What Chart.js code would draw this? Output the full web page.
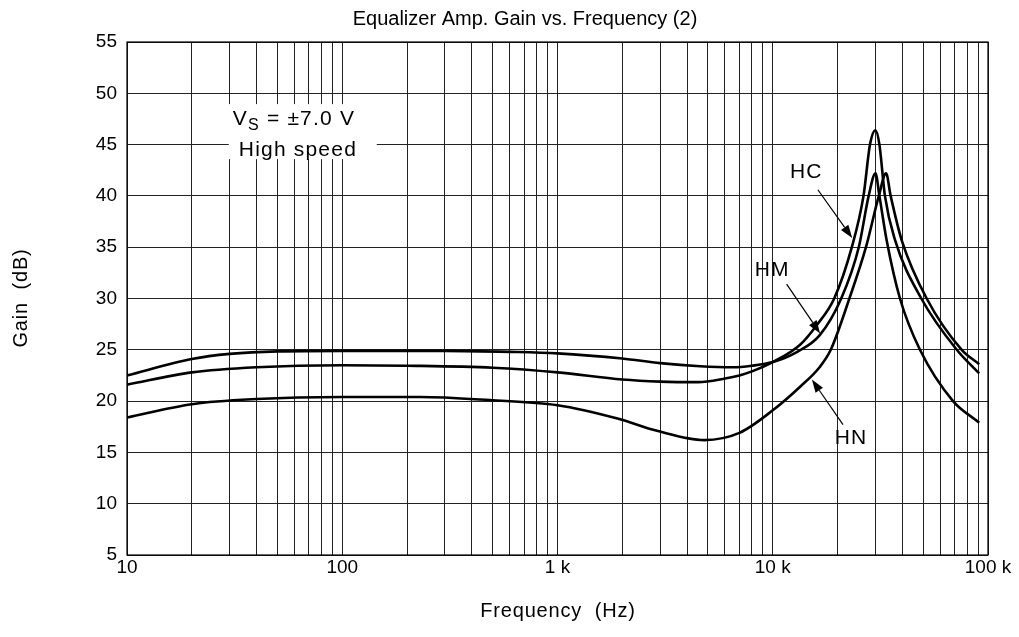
<!DOCTYPE html>
<html>
<head>
<meta charset="utf-8">
<script src="https://cdn.jsdelivr.net/npm/chart.js@4.4.1/dist/chart.umd.min.js"></script>
<style>
  html, body { margin: 0; padding: 0; background: #fff; }
  #wrap { width: 1019px; height: 637px; }
</style>
</head>
<body>
<div id="wrap"><canvas id="eqChart"></canvas></div>
<script>
// values
var hcFreq = [10, 20, 40, 100, 200, 500, 1000, 2000, 3000, 4500, 6000, 7000, 8000, 10000, 13400, 16000, 19300, 23300, 26400, 28300, 30000, 31300, 33200, 37000, 49000, 71600, 91000];
var hcGain = [21.6, 22.8, 23.3, 23.5, 23.45, 23.25, 22.8, 22.1, 21.9, 21.85, 22.2, 22.5, 22.9, 23.8, 25.5, 27.4, 30, 35, 40, 45, 46.4, 45, 40, 35.7, 30, 25, 22.7];

var hmFreq = [10, 20, 30, 50, 100, 300, 600, 1000, 2000, 3000, 4600, 6500, 8000, 10000, 13000, 16500, 20800, 25100, 27900, 30000, 31300, 33800, 39000, 48300, 68800, 91000];
var hmGain = [22.5, 24.1, 24.6, 24.85, 24.9, 24.9, 24.8, 24.65, 24.15, 23.7, 23.4, 23.3, 23.45, 23.8, 24.8, 26.4, 30, 35, 40, 42.2, 40, 35.7, 30, 25, 20, 17.9];

var hnFreq = [10, 20, 40, 100, 230, 485, 1000, 1900, 2900, 4800, 7000, 10000, 13400, 16500, 18600, 22700, 27100, 31100, 33600, 35300, 39700, 51900, 75500, 91000];
var hnGain = [18.4, 19.7, 20.2, 20.4, 20.4, 20.1, 19.6, 18.3, 17.1, 16.2, 16.9, 19.1, 21.4, 23.3, 25, 30, 35, 40, 42.2, 40, 35.7, 30, 25, 23.6];

var xTickLabels = { 10: '10', 100: '100', 1000: '1 k', 10000: '10 k', 100000: '100 k' };
var yMin = 5, yMax = 55, yStep = 5;

var FONT = '"Liberation Sans", Arial, Helvetica, sans-serif';

function pts(fs, gs) {
  return fs.map(function (f, i) { return { x: f, y: gs[i] }; });
}

function curve(label, fs, gs) {
  return {
    label: label,
    data: pts(fs, gs),
    borderColor: '#000',
    borderWidth: 2.6,
    pointRadius: 0,
    fill: false,
    cubicInterpolationMode: 'monotone'
  };
}

// labels, arrows and the condition box, placed in data units
var notes = [
  { text: 'HC', at: [14300, 42.3], from: [16200, 40.6], to: [23400, 35.9] },
  { text: 'HM', at: [9930, 32.8], from: [11600, 31.4], to: [16600, 26.6] },
  { text: 'HN', at: [23100, 16.4], from: [21200, 17.7], to: [15200, 22.1] }
];

function arrow(ctx, x1, y1, x2, y2) {
  var a = Math.atan2(y2 - y1, x2 - x1);
  var len = 13, w = 4.5;
  ctx.beginPath();
  ctx.moveTo(x1, y1);
  ctx.lineTo(x2 - Math.cos(a) * len, y2 - Math.sin(a) * len);
  ctx.lineWidth = 1.2;
  ctx.stroke();
  ctx.beginPath();
  ctx.moveTo(x2, y2);
  ctx.lineTo(x2 - Math.cos(a) * len - Math.sin(a) * w, y2 - Math.sin(a) * len + Math.cos(a) * w);
  ctx.lineTo(x2 - Math.cos(a) * len + Math.sin(a) * w, y2 - Math.sin(a) * len - Math.cos(a) * w);
  ctx.closePath();
  ctx.fill();
}

var decorations = {
  id: 'decorations',
  afterDatasetsDraw: function (chart) {
    var ctx = chart.ctx, xs = chart.scales.x, ys = chart.scales.y;
    ctx.save();
    ctx.fillStyle = '#000';
    ctx.strokeStyle = '#000';

    // condition box
    var bx = xs.getPixelForValue(31);
    var b1 = ys.getPixelForValue(46.9), b2 = ys.getPixelForValue(43.9);
    ctx.fillStyle = '#fff';
    ctx.fillRect(bx - 4, b1 - 21, 148, 55);
    ctx.fillStyle = '#000';
    ctx.textAlign = 'left';
    ctx.textBaseline = 'alphabetic';
    ctx.letterSpacing = '1.2px';
    ctx.font = '21px ' + FONT;
    ctx.fillText('V', bx, b1);
    var vw = ctx.measureText('V').width;
    ctx.font = '16px ' + FONT;
    ctx.fillText('S', bx + vw, b1 + 5);
    var sw = ctx.measureText('S').width;
    ctx.font = '21px ' + FONT;
    ctx.fillText(' = \u00b17.0 V', bx + vw + sw, b1);
    ctx.fillText('High speed', bx + 6, b2);

    // curve labels with arrows
    notes.forEach(function (n) {
      ctx.font = '21px ' + FONT;
      ctx.letterSpacing = '1px';
      ctx.textAlign = 'center';
      ctx.textBaseline = 'middle';
      ctx.fillText(n.text, xs.getPixelForValue(n.at[0]), ys.getPixelForValue(n.at[1]));
      arrow(ctx,
        xs.getPixelForValue(n.from[0]), ys.getPixelForValue(n.from[1]),
        xs.getPixelForValue(n.to[0]), ys.getPixelForValue(n.to[1]));
    });
    ctx.letterSpacing = '0px';

    // plot frame
    var ca = chart.chartArea;
    ctx.lineWidth = 1.2;
    ctx.strokeRect(ca.left, ca.top, ca.right - ca.left, ca.bottom - ca.top);

    // titles
    ctx.font = '20px ' + FONT;
    ctx.textAlign = 'center';
    ctx.textBaseline = 'middle';
    ctx.fillText('Equalizer Amp. Gain vs. Frequency (2)', 525, 19);
    ctx.letterSpacing = '0.8px';
    ctx.fillText('Frequency  (Hz)', 558, 611);
    ctx.translate(21, 298);
    ctx.rotate(-Math.PI / 2);
    ctx.fillText('Gain  (dB)', 0, 0);
    ctx.restore();
  }
};

var ctx = document.getElementById('eqChart');

var eqChart = new Chart(ctx, {
  type: 'line',
  data: {
    datasets: [
      curve('HC', hcFreq, hcGain),
      curve('HM', hmFreq, hmGain),
      curve('HN', hnFreq, hnGain)
    ]
  },
  options: {
    responsive: true,
    maintainAspectRatio: false,
    animation: false,
    layout: { padding: { top: 42, right: 31, left: 0, bottom: 0 } },
    plugins: {
      legend: { display: false },
      tooltip: { enabled: false }
    },
    scales: {
      x: {
        type: 'logarithmic',
        min: 10,
        max: 100000,
        afterFit: function (s) { s.height = 82; },
        afterBuildTicks: function (s) {
          var t = [];
          for (var d = 10; d < 100000; d *= 10) {
            for (var m = 1; m < 10; m++) t.push({ value: d * m });
          }
          t.push({ value: 100000 });
          s.ticks = t;
        },
        grid: { color: '#222', lineWidth: 1, drawTicks: false },
        border: { display: false },
        ticks: {
          autoSkip: false,
          maxRotation: 0,
          padding: 1,
          color: '#000',
          font: { family: FONT, size: 19 },
          callback: function (v) { return xTickLabels[v] || ''; }
        }
      },
      y: {
        min: yMin,
        max: yMax,
        afterFit: function (s) { s.width = 127; },
        grid: { color: '#222', lineWidth: 1, drawTicks: false },
        border: { display: false },
        ticks: {
          stepSize: yStep,
          padding: 10,
          color: '#000',
          font: { family: FONT, size: 19 }
        }
      }
    }
  },
  plugins: [decorations]
});
</script>
</body>
</html>
